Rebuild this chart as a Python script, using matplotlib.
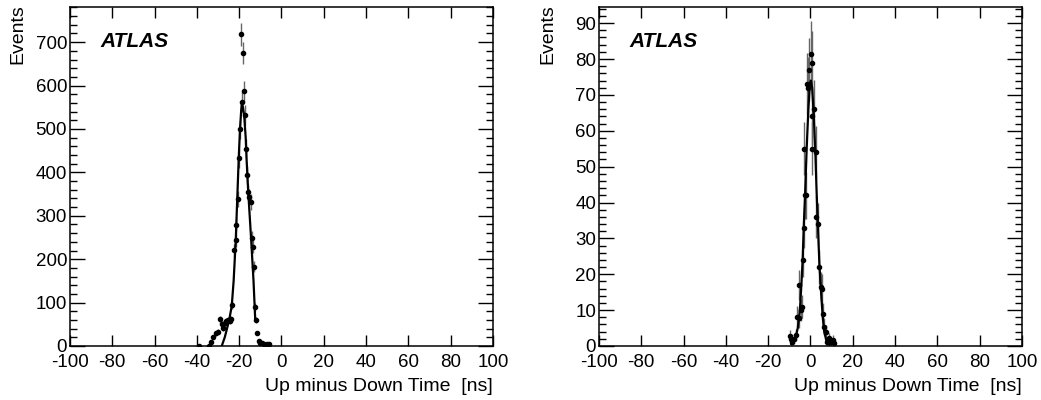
import numpy as np
import matplotlib
matplotlib.use("Agg")
import matplotlib.pyplot as plt
from matplotlib.ticker import MultipleLocator, NullLocator

plt.rcParams["font.family"] = ["Liberation Sans", "DejaVu Sans"]
plt.rcParams["axes.unicode_minus"] = False

# left panel: histogram points (time difference, counts) and fitted curve
left_x = [-39.2, -34.4, -33.5, -32.2, -31.0, -29.9, -29.1, -28.3, -27.6, -26.8, -26.0, -25.2, -24.4,
          -23.7, -23.2, -22.3, -21.6, -21.4, -20.7, -20.1, -19.8, -19.3, -18.7, -18.2, -17.9, -17.4,
          -16.8, -16.2, -15.7, -15.2, -14.4, -13.8, -13.5, -13.1, -12.5, -12.2, -11.6, -10.8, -10.2,
          -9.4, -8.1, -7.0, -5.9]
left_y = [1, 1, 10, 21, 29, 33, 62, 50, 42, 52, 57, 60, 58,
          62, 94, 221, 244, 279, 338, 432, 499, 718, 562, 675, 587, 532,
          455, 394, 355, 344, 332, 249, 229, 183, 90, 60, 30, 12, 8,
          6, 5, 4, 4]
left_fit_x = [-28.2, -27.8, -26.8, -25.9, -24.7, -23.5, -22.6, -21.6, -20.9, -20.2, -19.6, -19.0,
              -18.7, -18.2, -17.6, -16.9, -16.5, -15.7, -14.3, -13.2, -12.4]
left_fit_y = [0, 6, 20, 37, 60, 92, 150, 244, 338, 432, 499, 545,
              560, 550, 530, 480, 432, 355, 244, 150, 62]

# right panel
right_x = [-9.7, -9.2, -8.6, -8.0, -7.0, -6.3, -5.6, -5.3, -4.5, -4.2, -3.7, -3.1, -2.9, -2.5, -2.1,
           -1.8, -1.0, -0.7, 0.2, 0.6, 0.7, 0.9, 1.8, 2.5, 2.7, 3.7, 4.2, 4.8, 5.6, 5.8, 6.5, 7.3,
           7.8, 8.9, 9.7, 10.5, 11.0]
right_y = [2.8, 1.9, 1.0, 2.0, 3.0, 8.2, 7.7, 17, 10, 11, 24, 33, 55, 42, 42,
           73, 72, 77, 81.5, 79, 55, 64, 66, 54, 36, 34, 22, 16.5, 16, 9, 5.4, 3.8,
           1.0, 2.1, 1.2, 1.8, 0.9]
right_fit_x = [-9.0, -7.0, -6.0, -5.0, -4.3, -3.7, -3.2, -2.5, -1.8, -1.0, -0.3, 0.2, 0.8, 1.5,
               2.3, 2.9, 3.5, 4.2, 5.0, 5.8, 6.5, 7.5, 9.0]
right_fit_y = [0.5, 2.5, 5, 10, 17, 24, 33, 43, 55, 66, 73, 74, 72, 65,
               54, 43, 34, 23, 15, 8, 4, 1.5, 0.3]

fig = plt.figure(figsize=(10.41, 4.0), dpi=100)


def draw_panel(ax, x, y, fx, fy, ymax, major, minor):
    x = np.array(x)
    y = np.array(y)
    ax.errorbar(x, y, yerr=np.sqrt(y), fmt="none", ecolor="#666666", elinewidth=1.0)
    ax.plot(fx, fy, color="black", lw=1.6)
    ax.plot(x, y, "o", color="black", markersize=3)
    ax.set_xlim(-100, 100)
    ax.set_ylim(0, ymax)
    ax.xaxis.set_major_locator(MultipleLocator(20))
    ax.xaxis.set_minor_locator(NullLocator())
    ax.yaxis.set_major_locator(MultipleLocator(major))
    ax.yaxis.set_minor_locator(MultipleLocator(minor))
    ax.tick_params(which="both", direction="in", top=True, right=True, labelsize=13.5, width=1.0)
    ax.tick_params(axis="y", which="major", length=11, pad=2)
    ax.tick_params(axis="y", which="minor", length=5)
    ax.tick_params(axis="x", which="major", length=8, pad=6)
    for s in ax.spines.values():
        s.set_linewidth(1.1)
    ax.text(0.072, 0.897, "ATLAS", transform=ax.transAxes, fontsize=15,
            fontweight="bold", fontstyle="italic", va="center", ha="left")
    ax.set_xlabel("Up minus Down Time  [ns]", fontsize=14, loc="right", labelpad=5)


ax1 = fig.add_axes([0.0672, 0.135, 0.4063, 0.8475])
draw_panel(ax1, left_x, left_y, left_fit_x, left_fit_y, 781, 100, 20)
ax2 = fig.add_axes([0.5754, 0.135, 0.4063, 0.8475])
draw_panel(ax2, right_x, right_y, right_fit_x, right_fit_y, 94.5, 10, 2)

fig.text(18 / 1041, 1 - 4 / 400, "Events", rotation=90, fontsize=14, ha="center", va="top")
fig.text(548 / 1041, 1 - 4 / 400, "Events", rotation=90, fontsize=14, ha="center", va="top")

fig.savefig("out.png", dpi=100)
